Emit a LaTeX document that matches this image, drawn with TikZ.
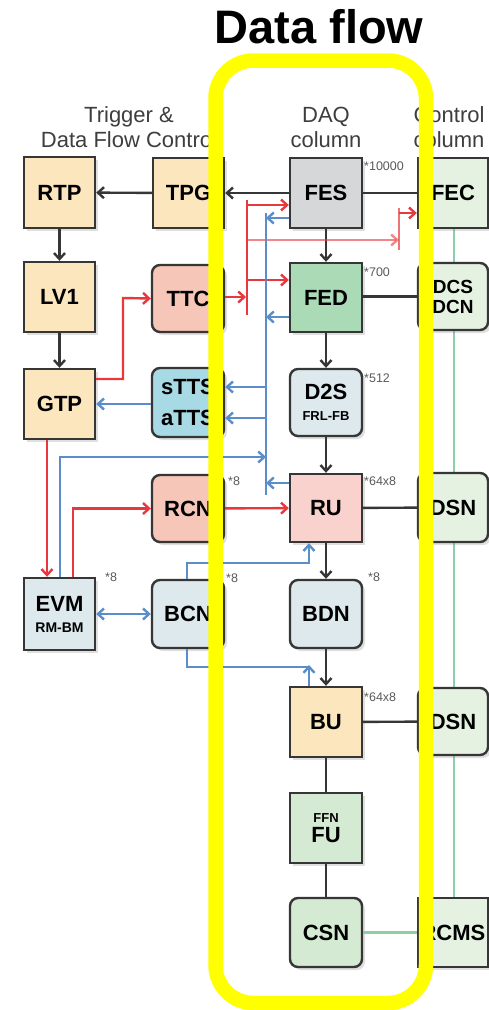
\documentclass[tikz,border=0pt]{standalone}
\usepackage{fontspec}
\setmainfont{Liberation Sans}
\usetikzlibrary{arrows.meta,shadows}
\definecolor{bord}{HTML}{363636}
\definecolor{beige}{HTML}{FBE6BE}
\definecolor{salmon}{HTML}{F6C6B9}
\definecolor{pinkru}{HTML}{F9D2CD}
\definecolor{cyanb}{HTML}{A8DAE6}
\definecolor{grayb}{HTML}{D5D7D9}
\definecolor{greenfed}{HTML}{AADBB6}
\definecolor{bluegray}{HTML}{DEE9EE}
\definecolor{lgreen}{HTML}{D5EAD3}
\definecolor{vlgreen}{HTML}{E5F2E2}
\definecolor{redl}{HTML}{E8383D}
\definecolor{bluel}{HTML}{5A8ECB}
\definecolor{greenl}{HTML}{8ACFA6}
\definecolor{hdr}{HTML}{3E3E3E}
\definecolor{yel}{HTML}{FFFF00}
\definecolor{mult}{HTML}{5A5A5A}
\begin{document}
\begin{tikzpicture}[x=1pt,y=-1pt,
  bx/.style={draw=bord, line width=2.4pt, minimum width=72pt, minimum height=70pt, inner sep=0pt,
     font=\fontsize{22}{23}\selectfont\bfseries, align=center,
     drop shadow={opacity=0.25, shadow xshift=3pt, shadow yshift=-3pt}},
  rbx/.style={bx, rounded corners=8pt},
  multlab/.style={font=\fontsize{12.5}{13}\selectfont, text=mult, anchor=west, inner sep=0pt},
  hdrtext/.style={font=\fontsize{22}{25}\selectfont, text=hdr, align=center, inner sep=0pt},
  tip/.style={-{Straight Barb[length=6pt,width=11pt]}},
  blk/.style={draw=bord, line width=2.4pt},
  blkarr/.style={blk, tip},
  redline/.style={draw=redl, line width=2.4pt},
  redarr/.style={redline, tip},
  blueline/.style={draw=bluel, line width=2.4pt},
  bluearr/.style={blueline, tip},
  greenline/.style={draw=greenl, line width=2.4pt}
]
\useasboundingbox[fill=white] (0,0) rectangle (489,1010);

% headers
\node[hdrtext] (hTrig) at (129,127) {Trigger \&\\Data Flow Control};
\node[hdrtext] (hDAQ) at (326,127) {DAQ\\column};
\node[hdrtext] (hCtl) at (449,127) {Control\\column};

% green control backbone
\coordinate (gtop) at (454,228);
\coordinate (gbot) at (454,898);
\draw[greenline] (gtop) -- (gbot);

% nodes
\node[bx, fill=beige, minimum width=71pt, minimum height=71pt] (RTP) at (59.5,192.5) {RTP};
\node[bx, fill=beige, minimum width=71pt] (TPG) at (188.5,193) {TPG};
\node[bx, fill=grayb] (FES) at (326,193) {FES};
\node[bx, fill=vlgreen, minimum width=70pt] (FEC) at (453,193) {FEC};
\node[bx, fill=beige, minimum width=71pt] (LV1) at (59.5,297) {LV1};
\node[rbx, fill=salmon, minimum height=67pt] (TTC) at (188,298.5) {TTC};
\node[bx, fill=greenfed, minimum height=69pt] (FED) at (326,297.5) {FED};
\node[rbx, fill=vlgreen, minimum width=70pt, minimum height=67pt, font=\fontsize{19}{20}\selectfont\bfseries] (DCS) at (453,296.5) {DCS\\DCN};
\node[bx, fill=beige, minimum width=71pt] (GTP) at (59.5,404) {GTP};
\node[rbx, fill=cyanb, minimum height=69pt] (TTS) at (188,402.5) {sTTS\\[8pt]aTTS};
\node[rbx, fill=bluegray, minimum height=67pt] (D2S) at (326,402.5) {D2S\\[-2pt]{\fontsize{13}{14}\selectfont FRL-FB}};
\node[rbx, fill=salmon, minimum height=67pt] (RCN) at (188,508.5) {RCN};
\node[bx, fill=pinkru, minimum height=68pt] (RU) at (326,508) {RU};
\node[rbx, fill=vlgreen, minimum width=70pt, minimum height=69pt] (DSNa) at (453,507.5) {DSN};
\node[bx, fill=bluegray, minimum width=71pt, minimum height=72pt] (EVM) at (59.5,614) {EVM\\[-2pt]{\fontsize{14}{15}\selectfont RM-BM}};
\node[rbx, fill=bluegray, minimum height=68pt] (BCN) at (188,614) {BCN};
\node[rbx, fill=bluegray, minimum height=68pt] (BDN) at (326,614) {BDN};
\node[bx, fill=beige] (BU) at (326,722) {BU};
\node[rbx, fill=vlgreen, minimum width=70pt, minimum height=67pt] (DSNb) at (453,721.5) {DSN};
\node[bx, fill=lgreen] (FU) at (326,828) {{\fontsize{13}{14}\selectfont FFN}\\[-3pt]FU};
\node[rbx, fill=lgreen, minimum height=69pt] (CSN) at (326,932.5) {CSN};
\node[bx, fill=vlgreen, minimum width=70pt, minimum height=69pt] (RCMS) at (453,932.5) {RCMS};

% multiplicity labels
\node[multlab] (mFES) at (364,166) {*10000};
\node[multlab] (mFED) at (364,272) {*700};
\node[multlab] (mD2S) at (364,378) {*512};
\node[multlab] (mRU) at (364,481) {*64x8};
\node[multlab] (mRCN) at (228,481) {*8};
\node[multlab] (mBCN) at (226,578) {*8};
\node[multlab] (mBDN) at (368,577) {*8};
\node[multlab] (mEVM) at (105,577) {*8};
\node[multlab] (mBU) at (364,697) {*64x8};

% black connectors
\draw[blkarr] (FES) -- (TPG);
\draw[blkarr] (TPG) -- (RTP);
\draw[blkarr] (RTP) -- (LV1);
\draw[blkarr] (LV1) -- (GTP);
\draw[blk] (FES) -- (FEC);
\draw[blk] (FED.east |- DCS.west) -- (DCS.west);
\draw[blkarr] (FES) -- (FED);
\draw[blkarr] (FED) -- (D2S);
\draw[blkarr] (D2S) -- (RU);
\draw[blk] (RU) -- (DSNa);
\draw[blkarr] (RU) -- (BDN);
\draw[blkarr] (BDN) -- (BU);
\draw[blk] (BU) -- (DSNb);
\draw[blk] (BU) -- (FU);
\draw[blk] (FU) -- (CSN);
\draw[greenline] (CSN) -- (RCMS);

% red TTC bus
\coordinate (rbTop) at (247,200);
\coordinate (rbBot) at (247,315);
\coordinate (rb205) at (247,205);
\coordinate (rb240) at (247,240);
\coordinate (rb280) at (247,280);
\coordinate (rb297) at (247,297);
\coordinate (rfTop) at (399,208);
\coordinate (rfBot) at (399,250);
\coordinate (rf213) at (399,213);
\coordinate (rf240) at (399,240);
\draw[redline] (rbTop) -- (rbBot);
\draw[redarr] (rb205) -- (rb205 -| FES.west);
\draw[redarr] (rb280) -- (rb280 -| FED.west);
\draw[redarr, shorten >=1pt] (TTC.east |- rb297) -- (rb297);
\draw[redline, opacity=0.7] (rfTop) -- (rfBot);
\draw[redarr, opacity=0.6] (rb240) -- (rf240);
\draw[redarr] (rf213) -- (rf213 -| FEC.west);
\draw[redarr] (GTP.east |- 0,379) -| (123,298) -- (TTC.west);
\draw[redarr] (GTP.south -| 47,0) -- (EVM.north -| 47,0);
\draw[redarr] (EVM.north -| 73,0) |- (RCN.west);
\draw[redarr] (RCN) -- (RU);

% blue TTS bus
\coordinate (bbTop) at (266,213);
\coordinate (bbBot) at (266,495);
\coordinate (bb218) at (266,218);
\coordinate (bb317) at (266,317);
\coordinate (bb387) at (266,387);
\coordinate (bb418) at (266,418);
\coordinate (bb457) at (266,457);
\coordinate (bb483) at (266,483);
\draw[blueline] (bbTop) -- (bbBot);
\draw[bluearr] (FES.west |- bb218) -- (bb218);
\draw[bluearr] (FED.west |- bb317) -- (bb317);
\draw[bluearr] (bb387) -- (bb387 -| TTS.east);
\draw[bluearr] (bb418) -- (bb418 -| TTS.east);
\draw[bluearr] (RU.west |- bb483) -- (bb483);
\draw[bluearr] (EVM.north -| 60,0) |- (bb457);
\draw[bluearr] (TTS.west |- GTP.east) -- (GTP.east);
\draw[blueline, {Straight Barb[length=6pt,width=11pt]}-{Straight Barb[length=6pt,width=11pt]}] (EVM.east |- BCN.west) -- (BCN.west);

% BCN links
\coordinate (bcRU) at (309,563);
\coordinate (bcBU) at (309,667);
\draw[bluearr] (BCN.north -| 187,0) |- (bcRU) -- (RU.south -| bcRU);
\draw[blueline] (BCN.south -| 187,0) |- (bcBU);
\draw[bluearr] (BU.north -| bcBU) -- ([yshift=2pt]bcBU);

% title and frame
\node[font=\fontsize{47}{50}\selectfont\bfseries, anchor=base, inner sep=0pt] (title) at (319,43) {Data flow};
\draw[yel, line width=14.5pt, rounded corners=38pt] (215.5,60.5) rectangle (426,1003);
\end{tikzpicture}
\end{document}
